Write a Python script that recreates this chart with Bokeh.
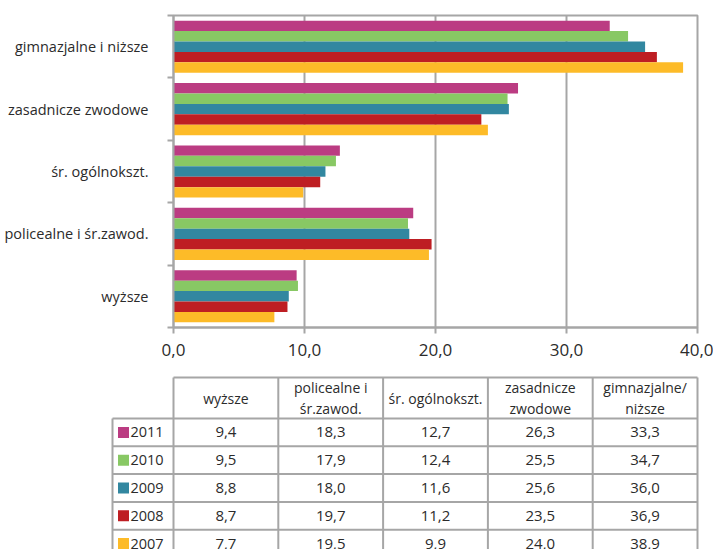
import numpy as np
from bokeh.plotting import figure
from bokeh.models import Range1d, FixedTicker, ColumnDataSource
from bokeh.core.properties import value
from bokeh.embed import file_html
from bokeh.resources import INLINE

# ---- data ----
categories = ["wyższe", "policealne i śr.zawod.", "śr. ogólnokszt.",
              "zasadnicze zwodowe", "gimnazjalne i niższe"]
table_headers = ["wyższe", "policealne i\nśr.zawod.", "śr. ogólnokszt.",
                 "zasadnicze\nzwodowe", "gimnazjalne/\nniższe"]
years = ["2011", "2010", "2009", "2008", "2007"]
v2011 = [9.4, 18.3, 12.7, 26.3, 33.3]
v2010 = [9.5, 17.9, 12.4, 25.5, 34.7]
v2009 = [8.8, 18.0, 11.6, 25.6, 36.0]
v2008 = [8.7, 19.7, 11.2, 23.5, 36.9]
v2007 = [7.7, 19.5, 9.9, 24.0, 38.9]
series = [v2011, v2010, v2009, v2008, v2007]
colors = ["#BB3C82", "#88C864", "#3287A0", "#BE1E23", "#FDBB28"]
x_ticks = [0, 10, 20, 30, 40]
x_tick_labels = ["0,0", "10,0", "20,0", "30,0", "40,0"]

FONT = "Open Sans"
GRAY = "#A6A6A6"
TXT = "#2b2b2b"

W = 713
CH = 370   # chart canvas height
TH = 179   # table canvas height

# ---- chart ----
p = figure(width=W, height=CH, x_range=Range1d(0, 40), y_range=Range1d(0, 5),
           output_backend="svg", toolbar_location=None,
           min_border_left=173, min_border_right=W - 697,
           min_border_top=15, min_border_bottom=CH - 327)
p.background_fill_color = "white"
p.border_fill_color = "white"
p.outline_line_color = GRAY
p.outline_line_width = 2

bar_h = 0.167
n = len(series)
for j, (vals, col) in enumerate(zip(series, colors)):
    off = (n - 1) / 2 - j
    ys = np.arange(len(categories)) + 0.5 + off * bar_h
    src = ColumnDataSource(dict(y=ys, right=vals))
    p.hbar(y="y", left=0, right="right", height=bar_h, source=src,
           fill_color=col, line_color=None)

p.xgrid.ticker = FixedTicker(ticks=x_ticks)
p.xgrid.grid_line_color = GRAY
p.xgrid.grid_line_width = 2
p.ygrid.grid_line_color = None

xa = p.xaxis[0]
xa.ticker = FixedTicker(ticks=x_ticks)
xa.major_label_overrides = {t: l for t, l in zip(x_ticks, x_tick_labels)}
xa.axis_line_color = GRAY
xa.axis_line_width = 2
xa.major_tick_line_color = GRAY
xa.major_tick_line_width = 2
xa.major_tick_out = 6
xa.major_tick_in = 0
xa.minor_tick_line_color = None
xa.major_label_text_font = FONT
xa.major_label_text_font_size = "17px"
xa.major_label_text_color = TXT
xa.major_label_standoff = 10

ya = p.yaxis[0]
centers = [i + 0.5 for i in range(len(categories))]
ya.ticker = FixedTicker(ticks=centers, minor_ticks=list(range(len(categories) + 1)))
ya.major_label_overrides = {c: l for c, l in zip(centers, categories)}
ya.axis_line_color = GRAY
ya.axis_line_width = 2
ya.major_tick_line_color = None
ya.major_tick_out = 0
ya.major_tick_in = 0
ya.minor_tick_line_color = GRAY
ya.minor_tick_line_width = 2
ya.minor_tick_out = 6
ya.minor_tick_in = 0
ya.major_label_text_font = FONT
ya.major_label_text_font_size = "14.5px"
ya.major_label_text_color = TXT
ya.major_label_standoff = 19

# ---- table ----
px_x = 104.8
px_y = 27.8
t = figure(width=W, height=TH,
           x_range=Range1d((0 - 173) / px_x, (W - 173) / px_x),
           y_range=Range1d((CH + TH - 418) / px_y, (CH - 418) / px_y),
           output_backend="svg", toolbar_location=None,
           min_border=0, min_border_left=0, min_border_right=0,
           min_border_top=0, min_border_bottom=0)
t.axis.visible = False
t.grid.visible = False
t.outline_line_color = None

ncol = len(table_headers)
nrow = len(years)
head_top = (377 - 418) / px_y
leg_left = (112 - 173) / px_x
bottom = nrow + 0.8

hx0 = [0] + [leg_left] * (nrow + 1)
hx1 = [ncol] * (nrow + 2)
hy = [head_top] + list(range(nrow + 1))
t.segment(x0=hx0, y0=hy, x1=hx1, y1=hy, line_color=GRAY, line_width=2)
vx = [leg_left] + list(range(ncol + 1))
vy0 = [0] + [head_top] * (ncol + 1)
vy1 = [bottom] * (ncol + 2)
t.segment(x0=vx, y0=vy0, x1=vx, y1=vy1, line_color=GRAY, line_width=2)

t.text(x=[i + 0.5 for i in range(ncol)], y=[head_top / 2] * ncol, text=table_headers,
       text_align="center", text_baseline="middle", text_font=value(FONT),
       text_font_size="14px", text_color=TXT, text_line_height=1.1)

ry = [k + 0.5 for k in range(nrow)]
t.rect(x=[(123 - 173) / px_x] * nrow, y=ry, width=11, height=11,
       width_units="screen", height_units="screen", fill_color=colors, line_color=None)
t.text(x=[(130 - 173) / px_x] * nrow, y=ry, text=years, text_align="left",
       text_baseline="middle", text_font=value(FONT), text_font_size="14.5px", text_color=TXT)

cx, cy, ct = [], [], []
for k, vals in enumerate(series):
    for i, v in enumerate(vals):
        cx.append(i + 0.5)
        cy.append(k + 0.5)
        ct.append(f"{v:.1f}".replace(".", ","))
t.text(x=cx, y=cy, text=ct, text_align="center", text_baseline="middle",
       text_font=value(FONT), text_font_size="15px", text_color=TXT)

open("out.html", "w").write(file_html([p, t], INLINE))
